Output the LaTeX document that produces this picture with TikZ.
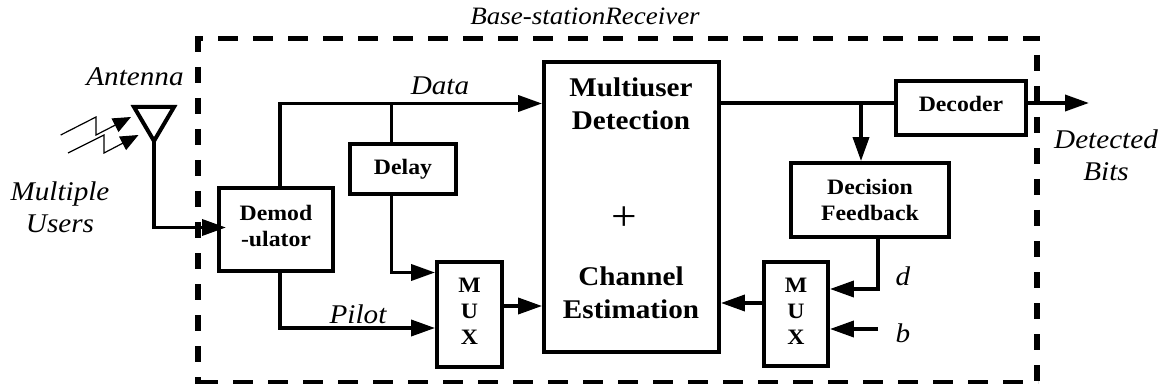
\documentclass[tikz,border=0pt]{standalone}
\usepackage{fontspec}
\setmainfont[FakeStretch=1.08]{Liberation Serif}
\usetikzlibrary{arrows.meta}
\tikzset{
  x=1pt,y=-1pt,
  blk/.style={draw=black,line width=3.8pt,fill=white,align=center,inner sep=0pt,font=\bfseries\fontsize{22}{26}\selectfont},
  bigtext/.style={inner sep=0pt,align=center,font=\bfseries\fontsize{27}{33}\selectfont},
  conn/.style={line width=3.6pt,line join=miter,-{Triangle[length=24pt,width=16pt,inset=0pt]}},
  wire/.style={line width=3.6pt,line join=miter},
  rays/.style={line width=1.2pt,-{Triangle[length=18pt,width=15pt,inset=0pt]}},
  lab/.style={inner sep=0pt,align=center,font=\itshape\fontsize{27}{32}\selectfont},
  dashh/.style={line width=4.2pt,dash pattern=on 20pt off 15pt},
  dashv/.style={line width=5.5pt,dash pattern=on 16pt off 15pt},
}
\begin{document}
\begin{tikzpicture}
\useasboundingbox (0,0) rectangle (1167,390);
\fill[white] (0,0) rectangle (1167,390);
\draw[dashh,dash phase=13pt] (196,38.5) -- (1040,38.5);
\draw[dashh,dash phase=33pt] (196,382) -- (1038,382);
\draw[dashv] (198,36) -- (198,384);
\draw[dashv,dash phase=12pt] (1037,36) -- (1037,384);
\node[lab,font=\itshape\fontsize{25}{31}\selectfont] (title) at (585,16) {Base-stationReceiver};
\node[blk,minimum width=114pt,minimum height=83pt,text depth=8pt] (demod) at (276,229.5) {Demod\\-ulator};
\node[blk,minimum width=106pt,minimum height=50pt] (delay) at (403,169) {Delay};
\node[blk,minimum width=65pt,minimum height=105pt,text depth=6pt] (mux1) at (469.5,314.5) {M\\U\\X};
\node[blk,minimum width=175pt,minimum height=290pt] (mud) at (631.5,207) {};
\node[blk,minimum width=130pt,minimum height=54pt,text depth=8pt] (dec) at (961,108) {Decoder};
\node[blk,minimum width=158pt,minimum height=74pt] (df) at (870,200) {Decision\\Feedback};
\node[blk,minimum width=64pt,minimum height=104pt,text depth=6pt] (mux2) at (796,314) {M\\U\\X};
\node[bigtext] (mudt) at (631,104) {Multiuser\\Detection};
\node[inner sep=0pt,font=\fontsize{42}{42}\selectfont] (plus) at (624,219) {+};
\node[bigtext] (mudb) at (631,293) {Channel\\Estimation};
% antenna
\draw[line width=4pt,line join=miter] (134,107) -- (174,107) -- (154,141) -- cycle;
% labels
\node[lab] (antl) at (135,77) {Antenna};
\node[lab] (users) at (60,207) {Multiple\\Users};
\node[lab] (datal) at (440,86) {Data};
\node[lab] (pilotl) at (358,314) {Pilot};
\node[lab] (bits) at (1106,155) {Detected\\Bits};
\node[lab] (dl) at (903,276) {d};
\node[lab] (bl) at (903,333) {b};
% coordinates
\coordinate (a0) at (154,141);
\coordinate (a1) at (154,227.5);
\coordinate (a2) at (226,227.5);
\coordinate (d1) at (280,103.5);
\coordinate (d2) at (391.5,103.5);
\coordinate (m1) at (391.5,272.5);
\coordinate (p1) at (280,328);
\coordinate (y1) at (500,306);
\coordinate (y2) at (730,303);
\coordinate (o1) at (861,103);
\coordinate (f1) at (878,289);
\coordinate (bin) at (878,329);
\coordinate (dout) at (1089,103);
\coordinate (r1a) at (60.7,135);\coordinate (r1b) at (96,117);\coordinate (r1c) at (96,135);\coordinate (r1d) at (131,117);
\coordinate (r2a) at (68,153);\coordinate (r2b) at (104,135);\coordinate (r2c) at (104,153);\coordinate (r2d) at (138.5,135);
% connectors
\draw[conn] (a0) -- (a1) -- (a2);
\draw[conn] (demod.north -| d1) -- (d1) -- (mud.west |- d1);
\draw[wire] (delay.north -| d2) -- (d2);
\draw[conn] (delay.south -| d2) -- (m1) -- (mux1.west |- m1);
\draw[conn] (demod.south -| p1) -- (p1) -- (mux1.west |- p1);
\draw[conn] (mux1.east |- y1) -- (mud.west |- y1);
\draw[conn] (mux2.west |- y2) -- (mud.east |- y2);
\draw[wire] (mud.east |- o1) -- (dec.west |- o1);
\draw[conn] (o1) -- (df.north -| o1);
\draw[conn] (df.south -| f1) -- (f1) -- (mux2.east |- f1);
\draw[conn] (bin) -- (mux2.east |- bin);
\draw[conn] (dec.east |- dout) -- (dout);
\draw[rays] (r1a) -- (r1b) -- (r1c) -- (r1d);
\draw[rays] (r2a) -- (r2b) -- (r2c) -- (r2d);
\end{tikzpicture}
\end{document}
